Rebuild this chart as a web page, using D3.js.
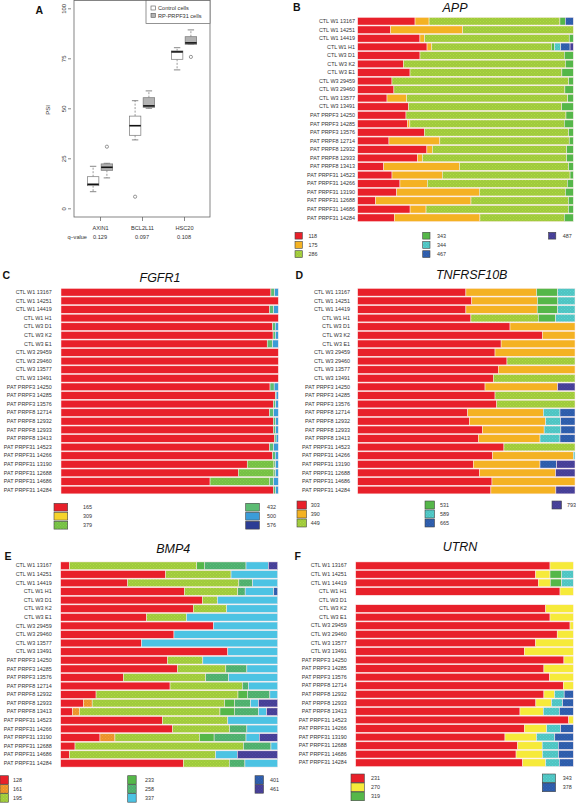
<!DOCTYPE html>
<html><head><meta charset="utf-8">
<script src="https://cdn.jsdelivr.net/npm/d3@7"></script>
<style>
html,body{margin:0;padding:0;background:#fff;}
svg{display:block;font-family:"Liberation Sans",Arial,sans-serif;}
</style></head>
<body><svg id="fig" width="576" height="803"></svg>
<script>
// ---------------- DATA ----------------
const samples = ["CTL W1 13167","CTL W1 14251","CTL W1 14419","CTL W1 H1","CTL W3 D1","CTL W3 K2","CTL W3 E1","CTL W3 29459","CTL W3 29460","CTL W3 13577","CTL W3 13491","PAT PRPF3 14250","PAT PRPF3 14285","PAT PRPF3 13576","PAT PRPF8 12714","PAT PRPF8 12932","PAT PRPF8 12933","PAT PRPF8 13413","PAT PRPF31 14523","PAT PRPF31 14266","PAT PRPF31 13190","PAT PRPF31 12688","PAT PRPF31 14686","PAT PRPF31 14284"];

// Panel A: box plot statistics (PSI)
const psiGenes = ["AXIN1","BCL2L11","HSC20"];
const psiQValues = ["0.129","0.097","0.108"];
const psiGroups = ["Control cells","RP-PRPF31 cells"];
// [whiskerLow, q1, median, q3, whiskerHigh] per gene
const psiControl = [[8.3,11.3,12.0,15.8,21.0],[34.2,36.5,41.3,46.1,53.8],[69.2,74.5,78.2,78.7,80.3]];
const psiPatient = [[15.2,19.0,20.5,22.2,22.5],[50.0,50.5,51.2,55.3,58.7],[82.0,82.0,82.7,85.8,89.2]];
const psiControlOutliers = [[],[5.8],[]];
const psiPatientOutliers = [[30.8],[],[75.7]];
const psiTicks = [0,25,50,75,100];

// Panel B: APP
const appIsoforms = ["118","175","286","343","344","467","487"];
const appValues = [
 [26.6,6.5,60.7,2.5,0,3.7,0],[15.3,33.4,51.3,0,0,0,0],[28.9,2.2,67.1,1.9,0,0,0],[32.1,2.2,55.3,1.5,2.9,4.3,1.5],
 [28.9,0,66.9,4.2,0,0,0],[21.2,0,75.1,3.7,0,0,0],[24.3,0,70.5,5.3,0,0,0],[15.9,0,81.9,2.2,0,0,0],
 [16.8,0,79.3,3.9,0,0,0],[13.6,9.1,74.7,2.6,0,0,0],[23.5,0,71.1,5.4,0,0,0],[22.4,0,74.2,3.4,0,0,0],
 [23.0,1.2,71.6,4.2,0,0,0],[30.9,0,66.9,2.2,0,0,0],[14.5,23.6,60.0,1.9,0,0,0],[32.1,2.5,62.3,3.1,0,0,0],
 [27.7,2.3,66.9,3.1,0,0,0],[12.1,35.1,50.7,2.2,0,0,0],[15.9,23.3,59.2,1.5,0,0,0],[19.6,12.7,64.9,2.8,0,0,0],
 [18.1,38.3,39.9,3.7,0,0,0],[8.3,44.2,45.1,2.3,0,0,0],[24.3,7.4,66.0,2.3,0,0,0],[17.0,39.7,39.1,4.2,0,0,0]];

// Panel C: FGFR1
const fgfr1Isoforms = ["165","309","379","432","500","576"];
const fgfr1Values = [
 [96.6,0,0,1.7,1.7,0],[100,0,0,0,0,0],[95.9,0,0,2.0,2.1,0],[100,0,0,0,0,0],
 [97.4,0,0,1.2,1.4,0],[97.6,0,0,1.1,1.3,0],[94.9,0,0,2.5,2.6,0],[100,0,0,0,0,0],
 [100,0,0,0,0,0],[100,0,0,0,0,0],[100,0,0,0,0,0],[96.2,0,0,1.9,1.9,0],
 [98.6,0,0,0.4,1.0,0],[97.7,0,0,1.1,1.2,0],[95.9,0,0,2.0,2.1,0],[97.7,0,0,1.1,1.2,0],
 [97.7,0,0,1.1,1.2,0],[98.2,0,0,0.8,1.0,0],[95.9,0,0,2.0,2.1,0],[97.4,0,0,1.2,1.4,0],
 [85.7,0,12.3,0.8,1.2,0],[81.6,0,16.4,0.8,1.2,0],[68.6,0,27.3,2.0,2.1,0],[97.7,0,0,1.1,1.2,0]];

// Panel D: TNFRSF10B
const tnfIsoforms = ["303","390","449","531","589","665","793"];
const tnfValues = [
 [49.8,32.5,0,9.7,8.0,0,0],[52.5,30.2,0,9.4,7.9,0,0],[49.8,32.8,0,9.4,8.0,0,0],[52.1,0,31.0,8.0,8.9,0,0],
 [70.1,29.9,0,0,0,0,0],[85.0,15.0,0,0,0,0,0],[66.0,34.0,0,0,0,0,0],[63.2,36.8,0,0,0,0,0],
 [68.7,0,31.3,0,0,0,0],[64.7,35.3,0,0,0,0,0],[62.4,0,37.6,0,0,0,0],[58.6,33.4,0,0,0,0,8.0],
 [63.2,0,36.8,0,0,0,0],[64.0,0,36.0,0,0,0,0],[50.6,34.8,0,0,7.7,6.9,0],[51.4,35.1,0,0,6.9,6.6,0],
 [57.4,28.4,0,0,7.7,6.5,0],[55.5,28.4,0,0,9.2,6.9,0],[67.3,0,32.7,0,0,0,0],[62.1,37.1,0,0,0.8,0,0],
 [53.2,30.7,0,0,0,7.7,8.4],[56.0,35.1,0,0,0,0,8.9],[61.8,38.2,0,0,0,0,0],[61.3,29.9,0,0,0,0,8.8]];

// Panel E: BMP4
const bmp4Isoforms = ["128","161","195","233","258","337","401","461"];
const bmp4Values = [
 [4.0,0,58.7,3.5,19.2,10.3,0,4.3],[48.4,0,30.1,0,0,21.5,0,0],[30.9,0,51.2,0,6.3,11.6,0,0],[57.0,0,24.6,0,3.4,13.2,1.8,0],
 [65.3,0,6.9,0,0,27.8,0,0],[61.1,0,15.4,0,0,23.5,0,0],[39.6,0,18.4,0,0,42.0,0,0],[70.4,0,0,0,0,29.6,0,0],
 [52.2,0,0,0,0,47.8,0,0],[37.3,0,0,0,0,62.7,0,0],[77.0,0,0,0,0,23.0,0,0],[49.2,0,16.3,0,0,34.5,0,0],
 [53.8,0,22.3,0,9.7,14.2,0,0],[28.9,0,37.9,0,10.6,22.6,0,0],[50.4,0,33.3,0,2.8,13.5,0,0],[16.3,0,65.4,4.3,10.4,3.6,0,0],
 [10.4,4.1,61.0,4.6,7.4,3.7,0,8.8],[5.4,3.2,64.8,6.6,11.1,3.8,0,5.1],[46.9,0,30.1,0,0,23.0,0,0],[51.5,0,26.3,0,8.0,14.2,0,0],
 [18.1,6.9,38.9,6.8,14.7,6.1,0,8.5],[6.6,0,77.6,0,12.7,3.1,0,0],[4.0,0,67.4,0,0,10.0,0,18.6],[56.5,0,21.2,0,7.2,15.1,0,0]];

// Panel F: UTRN
const utrnIsoforms = ["231","270","319","343","378"];
const utrnValues = [
 [89.3,10.7,0,0,0],[82.7,6.6,5.4,5.3,0],[83.9,5.5,5.2,5.4,0],[93.9,6.1,0,0,0],
 [0,0,0,0,0],[87.3,12.7,0,0,0],[89.3,10.7,0,0,0],[98.5,1.5,0,0,0],
 [92.6,7.4,0,0,0],[82.7,17.3,0,0,0],[77.5,22.5,0,0,0],[95.7,4.3,0,0,0],
 [86.5,13.5,0,0,0],[89.1,10.9,0,0,0],[95.4,4.6,0,0,0],[86.5,4.9,0,4.4,4.2],
 [82.8,7.2,0,5.1,4.9],[75.5,10.7,0,7.4,6.4],[97.9,2.1,0,0,0],[77.5,10.3,0,6.4,5.8],
 [68.6,14.5,0,8.4,8.5],[74.4,11.3,0,7.4,6.9],[73.7,12.1,0,7.4,6.8],[76.7,10.6,0,6.3,6.4]];

// ---------------- STYLES ----------------
const C = {red:"#e8202a",orange:"#f4b223",yg:"#9fc93c",green:"#55b749",teal:"#4fc3c1",blue:"#2e5ca9",purple:"#463f96",
  yellowC:"#f5d32c",green379:"#76bf45",green432:"#5cbc73",blue500:"#3b9cd8",navy:"#2c3d94",
  orangeE:"#e8922c",green258:"#4fae6d",cyan:"#4cc3e3",yellowF:"#f6ea3a"};
const appColors = [C.red,C.orange,C.yg,C.green,C.teal,C.blue,C.purple];
const fgfr1Colors = [C.red,C.yellowC,C.green379,C.green432,C.blue500,C.navy];
const tnfColors = [C.red,C.orange,C.yg,C.green,C.teal,C.blue,C.purple];
const bmp4Colors = [C.red,C.orangeE,C.yg,C.green,C.green258,C.cyan,C.blue,C.purple];
const utrnColors = [C.red,C.yellowF,C.green,C.teal,C.blue];
const textured = new Set([C.teal,C.blue,C.purple,C.green379,C.orangeE,C.green258,C.yg]);

const svg = d3.select("#fig");
const defs = svg.append("defs");
const patId = new Map();
function fillFor(col){
  if(!textured.has(col)) return col;
  if(!patId.has(col)){
    const id="p"+patId.size;
    patId.set(col,id);
    const p=defs.append("pattern").attr("id",id).attr("width",3).attr("height",3).attr("patternUnits","userSpaceOnUse");
    p.append("rect").attr("width",3).attr("height",3).attr("fill",col);
    const lighter=d3.color(col).brighter(0.25);
    p.append("rect").attr("x",0).attr("y",0).attr("width",1).attr("height",1).attr("fill",lighter);
    p.append("rect").attr("x",1.5).attr("y",1.5).attr("width",1).attr("height",1).attr("fill",lighter);
  }
  return `url(#${patId.get(col)})`;
}

const txt = "#333";

// ---------------- PANEL A ----------------
(function(){
  const g = svg.append("g");
  const y = d3.scaleLinear().domain([0,100]).range([208.3,8.3]);
  const x = d3.scaleLinear().domain([1,3]).range([100,184]);
  const off = 6.9, bw = 11.5, cap = 3.2;
  g.append("rect").attr("x",74).attr("y",0.5).attr("width",136).attr("height",216.5).attr("fill","none").attr("stroke","#666").attr("stroke-width",0.8);
  const ya = g.append("g").attr("transform","translate(71,0)").call(d3.axisLeft(y).tickValues(psiTicks).tickSize(3).tickPadding(3));
  ya.select(".domain").remove();
  ya.selectAll("line").attr("stroke","#555").attr("stroke-width",0.7);
  ya.selectAll("text").attr("font-size",6).attr("fill",txt).attr("text-anchor","middle")
    .attr("transform","translate(-6.8,0) rotate(-90)").attr("x",0).attr("y",0).attr("dy","0.32em");
  g.append("text").attr("transform","translate(50,110) rotate(-90)").attr("text-anchor","middle").attr("font-size",6).attr("fill",txt).text("PSI");
  const xa = g.append("g").attr("transform","translate(0,217)").call(d3.axisBottom(x).tickValues([1,2,3]).tickSize(4).tickFormat((d,i)=>psiGenes[i]));
  xa.select(".domain").remove();
  xa.selectAll("line").attr("stroke","#555").attr("stroke-width",0.7);
  xa.selectAll("text").attr("font-size",5.6).attr("fill",txt).attr("dy",0).attr("y",13);
  g.append("text").attr("x",87).attr("y",238.5).attr("text-anchor","end").attr("font-size",5.6).attr("fill",txt).text("q\u2013value");
  g.selectAll(".qv").data(psiQValues).join("text").attr("x",(d,i)=>x(i+1)).attr("y",238.5).attr("text-anchor","middle").attr("font-size",5.6).attr("fill",txt).text(d=>d);

  function drawBox(stats, outs, dx, fill){
    stats.forEach((s,i)=>{
      const cx = x(i+1)+dx;
      const bg = g.append("g");
      bg.append("line").attr("x1",cx).attr("x2",cx).attr("y1",y(s[3])).attr("y2",y(s[4])).attr("stroke","#555").attr("stroke-width",0.6).attr("stroke-dasharray","2,1.5");
      bg.append("line").attr("x1",cx).attr("x2",cx).attr("y1",y(s[1])).attr("y2",y(s[0])).attr("stroke","#555").attr("stroke-width",0.6).attr("stroke-dasharray","2,1.5");
      bg.append("line").attr("x1",cx-cap).attr("x2",cx+cap).attr("y1",y(s[4])).attr("y2",y(s[4])).attr("stroke","#555").attr("stroke-width",0.7);
      bg.append("line").attr("x1",cx-cap).attr("x2",cx+cap).attr("y1",y(s[0])).attr("y2",y(s[0])).attr("stroke","#555").attr("stroke-width",0.7);
      bg.append("rect").attr("x",cx-bw/2).attr("y",y(s[3])).attr("width",bw).attr("height",Math.max(0.5,y(s[1])-y(s[3]))).attr("fill",fill).attr("stroke","#777").attr("stroke-width",0.7);
      bg.append("line").attr("x1",cx-bw/2).attr("x2",cx+bw/2).attr("y1",y(s[2])).attr("y2",y(s[2])).attr("stroke","#111").attr("stroke-width",1.6);
      outs[i].forEach(o=>bg.append("circle").attr("cx",cx).attr("cy",y(o)).attr("r",1.6).attr("fill","none").attr("stroke","#555").attr("stroke-width",0.6));
    });
  }
  drawBox(psiControl, psiControlOutliers, -off, "#fff");
  drawBox(psiPatient, psiPatientOutliers, off, "#b3b3b3");
  // legend
  g.append("rect").attr("x",146).attr("y",0.5).attr("width",64).attr("height",23).attr("fill","#fff").attr("stroke","#666").attr("stroke-width",0.7);
  psiGroups.forEach((t,i)=>{
    g.append("rect").attr("x",151).attr("y",6+i*7.3).attr("width",4.3).attr("height",4).attr("fill",i?"#b3b3b3":"#fff").attr("stroke","#555").attr("stroke-width",0.6);
    g.append("text").attr("x",158).attr("y",10.2+i*7.3).attr("font-size",5.6).attr("fill",txt).text(t);
  });
  g.append("text").attr("x",35.5).attr("y",13.5).attr("font-size",10.5).attr("font-weight","bold").attr("fill","#111").text("A");
})();

// ---------------- STACKED PANELS ----------------
function stackedPanel(cfg){
  const g = svg.append("g");
  const rows = cfg.values.map((r,i)=>{ const o={sample:samples[i]}; cfg.keys.forEach((k,j)=>o[k]=r[j]); return o; });
  const series = d3.stack().keys(cfg.keys).offset(d3.stackOffsetExpand)(rows);
  const x = d3.scaleLinear().domain([0,1]).range([cfg.x0,cfg.x1]);
  const y = d3.scaleBand().domain(samples).range([cfg.y0,cfg.y1]).paddingInner(0.11).paddingOuter(0.05);
  series.forEach((s,si)=>{
    g.append("g").selectAll("rect").data(s.filter(d=>isFinite(d[0])&&isFinite(d[1])&&d[1]-d[0]>0)).join("rect")
      .attr("x",d=>x(d[0])).attr("width",d=>x(d[1])-x(d[0]))
      .attr("y",d=>y(d.data.sample)).attr("height",y.bandwidth())
      .attr("fill",fillFor(cfg.colors[si])).attr("stroke","#fdeaea").attr("stroke-width",0.5);
  });
  const ax = g.append("g").attr("transform",`translate(${cfg.labelX},0)`).call(d3.axisLeft(y).tickSize(0).tickPadding(0));
  ax.select(".domain").remove();
  ax.selectAll("text").attr("font-size",5.4).attr("fill",txt);
  g.append("text").attr("x",cfg.letter[0]).attr("y",cfg.letter[1]).attr("font-size",10.5).attr("font-weight","bold").attr("fill","#111").text(cfg.id);
  g.append("text").attr("x",cfg.title[0]).attr("y",cfg.title[1]).attr("text-anchor","middle").attr("font-size",12.5).attr("font-style","italic").attr("fill","#111").text(cfg.name);
  // legend
  const L = cfg.legend; let k=0;
  L.split.forEach((n,ci)=>{
    for(let r=0;r<n;r++,k++){
      const yy = L.y + r*L.pitch;
      g.append("rect").attr("x",L.cols[ci][0]).attr("y",yy).attr("width",L.sw).attr("height",L.sh)
        .attr("fill",fillFor(cfg.colors[k])).attr("stroke","#444").attr("stroke-width",0.6);
      g.append("text").attr("x",L.cols[ci][1]).attr("y",yy+L.sh/2+2).attr("font-size",5.4).attr("fill",txt).text(cfg.keys[k]);
    }
  });
}

stackedPanel({id:"B",name:"APP",keys:appIsoforms,values:appValues,colors:appColors,x0:357.7,x1:573.3,y0:17,y1:222,labelX:355,
  letter:[293,11],title:[455,11.5],legend:{cols:[[295,308.5],[422.7,437],[548.5,562.7]],split:[3,3,1],y:232.3,sw:7.3,sh:6.8,pitch:9.2}});
stackedPanel({id:"C",name:"FGFR1",keys:fgfr1Isoforms,values:fgfr1Values,colors:fgfr1Colors,x0:61,x1:278.3,y0:288,y1:494.3,labelX:51.7,
  letter:[2.5,278.5],title:[160,281.5],legend:{cols:[[54,83],[245.7,267]],split:[3,3],y:503.3,sw:13.7,sh:7.8,pitch:9}});
stackedPanel({id:"D",name:"TNFRSF10B",keys:tnfIsoforms,values:tnfValues,colors:tnfColors,x0:357.7,x1:575,y0:288,y1:494.3,labelX:350,
  letter:[295.5,278.5],title:[471.7,278.5],legend:{cols:[[297,310.7],[425,440],[552,567]],split:[3,3,1],y:501,sw:9.5,sh:8,pitch:9}});
stackedPanel({id:"E",name:"BMP4",keys:bmp4Isoforms,values:bmp4Values,colors:bmp4Colors,x0:60.7,x1:277.7,y0:561.5,y1:767.5,labelX:51.7,
  letter:[4.5,559.5],title:[173.3,553],legend:{cols:[[0,13],[127.7,145],[255,270]],split:[3,3,2],y:775.7,sw:8.5,sh:8.5,pitch:9}});
stackedPanel({id:"F",name:"UTRN",keys:utrnIsoforms,values:utrnValues,colors:utrnColors,x0:355.7,x1:573.3,y0:561.5,y1:767,labelX:346.7,
  letter:[294.5,559.5],title:[460,551],legend:{cols:[[351,371],[542.3,562.7]],split:[3,2],y:774,sw:13.3,sh:8.7,pitch:9}});
</script>
</body></html>
